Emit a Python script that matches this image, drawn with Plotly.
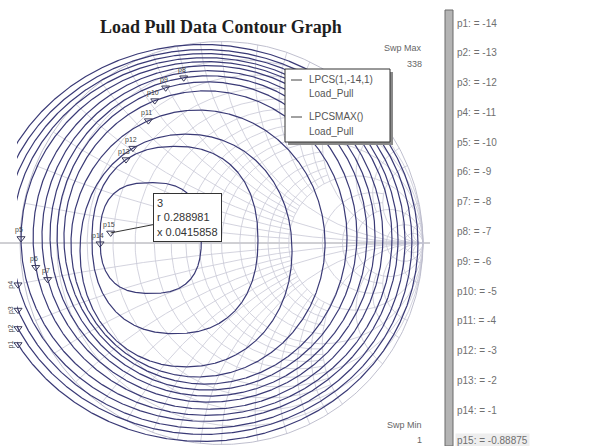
import numpy as np
import plotly.graph_objects as go

# ---- data -------------------------------------------------------------
# contour levels (dB) of LPCS(1,-14,1) and their extents in the Gamma plane
levels = [-14, -13, -12, -11, -10, -9, -8, -7, -6, -5, -4, -3, -2, -1]
gamma_left = [-1.16, -1.12, -1.08, -1.04, -0.995, -0.935, -0.891, -0.851,
              -0.816, -0.782, -0.747, -0.702, -0.643, -0.603]
gamma_right = [0.975, 0.945, 0.911, 0.876, 0.846, 0.801, 0.762, 0.722,
               0.672, 0.623, 0.514, 0.350, 0.181, -0.100]
gamma_top = [0.985, 0.960, 0.940, 0.920, 0.900, 0.880, 0.855, 0.830,
             0.800, 0.755, 0.660, 0.540, 0.480, 0.300]
gamma_bottom = [-0.985, -0.950, -0.920, -0.885, -0.855, -0.825, -0.790, -0.760,
                -0.730, -0.700, -0.665, -0.615, -0.450, -0.250]
squareness = [2.0, 2.0, 2.0, 2.0, 2.0, 2.0, 2.0, 2.0, 2.0, 2.0, 2.0, 2.1, 2.3, 2.6]

# where each contour's label marker sits (angle along the contour, None = at left frame edge)
marker_angle = [None, None, None, None, 180, 190, 195, 99, 106, 111, 113, 119, 123, 183]

# LPCSMAX() result
max_level = -0.88875
max_r = 0.288981
max_x = 0.0415858
max_label = "3"

marker_names = ["p%d" % (i + 1) for i in range(15)]
marker_values = levels + [max_level]

sweep_max = 338
sweep_min = 1

# Smith chart grid values
r_major = [0.2, 0.5, 1.0, 2.0, 5.0]
r_minor = [0.1, 0.3, 0.4, 0.6, 0.7, 0.8, 0.9, 1.2, 1.4, 1.6, 1.8, 3.0, 4.0, 10.0, 20.0]
x_major = [0.2, 0.5, 1.0, 2.0, 5.0]
x_minor = [0.1, 0.3, 0.4, 0.6, 0.7, 0.8, 0.9, 1.2, 1.4, 1.6, 1.8, 3.0, 4.0, 10.0, 20.0]

# ---- geometry helpers --------------------------------------------------
W, H = 597, 446
CX, CY, RAD = 221.5, 243.0, 201.5   # pixel centre / radius of the unit circle
X_LEFT = 17                         # left edge of the plotting frame (px)


def paper_x(px):
    return px / W


def paper_y(py):
    return 1 - py / H


x_range = [(X_LEFT - CX) / RAD, (W - CX) / RAD]
y_range = [(CY - H) / RAD, CY / RAD]
edge_x = x_range[0] + 0.005   # markers sit just inside the frame edge


def contour_shape(i, t):
    L, R, T, B, p = gamma_left[i], gamma_right[i], gamma_top[i], gamma_bottom[i], squareness[i]
    cx, a = (L + R) / 2, (R - L) / 2
    cy, b = (T + B) / 2, (T - B) / 2
    c, s = np.cos(t), np.sin(t)
    u = np.sign(c) * np.abs(c) ** (2 / p)
    v = np.sign(s) * np.abs(s) ** (2 / p)
    return cx + a * u, cy + b * v


def edge_angle(i):
    L, R, p = gamma_left[i], gamma_right[i], squareness[i]
    cx, a = (L + R) / 2, (R - L) / 2
    u = abs((edge_x - cx) / a)
    c = -(u ** (p / 2))
    return 2 * np.pi - np.arccos(c)


def z_to_gamma(z):
    return (z - 1) / (z + 1)


def grid_lines():
    xs, ys = [], []

    def add(g):
        g = np.where(np.abs(g) <= 1.0005, g, np.nan)
        xs.extend(list(g.real) + [None])
        ys.extend(list(g.imag) + [None])

    t = np.linspace(-np.pi / 2 + 1e-4, np.pi / 2 - 1e-4, 600)
    for r in r_major:
        add(z_to_gamma(r + 1j * np.tan(t) * (1 + r)))
    for r in r_minor:
        lim = 2.0 if r < 2 else 5.0
        if r >= 10:
            lim = 1e6
        xx = np.linspace(-lim, lim, 400) if lim < 1e5 else np.tan(t) * (1 + r)
        add(z_to_gamma(r + 1j * xx))
    rr_full = np.concatenate([np.linspace(0, 5, 300), np.geomspace(5, 2000, 200)])
    for xv in x_major:
        for sgn in (1, -1):
            add(z_to_gamma(rr_full + 1j * sgn * xv))
    for xv in x_minor:
        lim = 2.0 if xv < 2 else 5.0
        rr = rr_full if xv >= 10 else np.linspace(0, lim, 300)
        for sgn in (1, -1):
            add(z_to_gamma(rr + 1j * sgn * xv))
    return xs, ys


fig = go.Figure()

# Smith chart grid
gx, gy = grid_lines()
fig.add_trace(go.Scatter(x=gx, y=gy, mode="lines", hoverinfo="skip",
                         line=dict(color="#c8c8d6", width=0.8)))
th = np.linspace(0, 2 * np.pi, 720)
fig.add_trace(go.Scatter(x=np.cos(th), y=np.sin(th), mode="lines", hoverinfo="skip",
                         line=dict(color="#b8b8c8", width=0.9)))

# load pull contours
t = np.linspace(0, 2 * np.pi, 1441)
for i, lev in enumerate(levels):
    x, y = contour_shape(i, t)
    fig.add_trace(go.Scatter(x=x, y=y, mode="lines", name=str(lev), hoverinfo="skip",
                             line=dict(color="#3a3a76", width=1.2)))

# contour markers
mx, my = [], []
for i in range(len(levels)):
    ang = edge_angle(i) if marker_angle[i] is None else np.radians(marker_angle[i])
    x, y = contour_shape(i, np.array([ang]))
    mx.append(float(x[0]))
    my.append(float(y[0]))
g_max = z_to_gamma(complex(max_r, max_x))
mx.append(g_max.real)
my.append(g_max.imag)

fig.add_trace(go.Scatter(x=mx, y=my, mode="markers", cliponaxis=False, hoverinfo="skip",
                         marker=dict(symbol="triangle-down-open", size=7,
                                     color="#3a3a5a", line=dict(width=1))))

annotations = []
for i, name in enumerate(marker_names):
    left_group = (marker_angle[i] is None) if i < len(levels) else False
    if left_group:
        annotations.append(dict(x=mx[i], y=my[i], xref="x", yref="y", text=name,
                                showarrow=False, textangle=-90, xshift=-7,
                                xanchor="center", yanchor="middle",
                                font=dict(family="Liberation Sans", size=7, color="#444")))
    else:
        annotations.append(dict(x=mx[i], y=my[i], xref="x", yref="y", text=name,
                                showarrow=False, yshift=8, xshift=-2,
                                xanchor="center", yanchor="middle",
                                font=dict(family="Liberation Sans", size=7, color="#444")))

# marker read-out box for LPCSMAX
annotations.append(dict(
    x=g_max.real, y=g_max.imag, xref="x", yref="y",
    text="%s<br>r %s<br>x %s" % (max_label, max_r, max_x),
    showarrow=True, arrowhead=0, arrowwidth=1, arrowcolor="#333",
    ax=77, ay=-15, align="left",
    bgcolor="white", bordercolor="#333", borderwidth=1, borderpad=3,
    font=dict(family="Liberation Sans", size=11, color="#333")))

# title
annotations.append(dict(x=paper_x(221), y=paper_y(27), xref="paper", yref="paper",
                        xanchor="center", yanchor="middle",
                        text="<b>Load Pull Data Contour Graph</b>", showarrow=False,
                        font=dict(family="Liberation Serif", size=18, color="#1e1e1e")))

# sweep range
small = dict(family="Liberation Sans", size=9, color="#666")
for txt, ypx in (("Swp Max", 48), (str(sweep_max), 64), ("Swp Min", 425), (str(sweep_min), 440)):
    annotations.append(dict(x=paper_x(424), y=paper_y(ypx), xref="paper", yref="paper",
                            text=txt, showarrow=False, xanchor="right", yanchor="middle",
                            font=small))

# legend box text
legend_font = dict(family="Liberation Sans", size=10, color="#555")
for txt, ypx in (("LPCS(1,-14,1)", 80), ("Load_Pull", 94), ("LPCSMAX()", 117), ("Load_Pull", 131)):
    annotations.append(dict(x=paper_x(307), y=paper_y(ypx), xref="paper", yref="paper",
                            text=txt, showarrow=False, xanchor="left", yanchor="middle",
                            font=legend_font))

# marker value list on the right
ys_list = np.linspace(23, 440, len(marker_names))
for name, val, ypx in zip(marker_names, marker_values, ys_list):
    annotations.append(dict(x=paper_x(455), y=paper_y(ypx), xref="paper", yref="paper",
                            text="%s: = %s" % (name, ("%g" % val)), showarrow=False,
                            xanchor="left", yanchor="middle",
                            bgcolor="#eeeeee" if name == "p15" else None,
                            font=dict(family="Liberation Sans", size=10, color="#707070")))

shapes = [
    # real axis
    dict(type="line", xref="paper", yref="y", x0=0, x1=paper_x(430), y0=0, y1=0,
         line=dict(color="#a0a0a8", width=1), layer="below"),
    # legend box with shadow
    dict(type="rect", xref="paper", yref="paper", x0=paper_x(288), x1=paper_x(393),
         y0=paper_y(145), y1=paper_y(72), fillcolor="#8a8a8a", line=dict(width=0), layer="above"),
    dict(type="rect", xref="paper", yref="paper", x0=paper_x(285), x1=paper_x(390),
         y0=paper_y(142), y1=paper_y(69), fillcolor="white",
         line=dict(color="#333", width=1), layer="above"),
    dict(type="line", xref="paper", yref="paper", x0=paper_x(291), x1=paper_x(302),
         y0=paper_y(80), y1=paper_y(80), line=dict(color="#444", width=1), layer="above"),
    dict(type="line", xref="paper", yref="paper", x0=paper_x(291), x1=paper_x(302),
         y0=paper_y(117), y1=paper_y(117), line=dict(color="#444", width=1), layer="above"),
    # divider bar
    dict(type="rect", xref="paper", yref="paper", x0=paper_x(445), x1=paper_x(453),
         y0=0, y1=paper_y(10), fillcolor="#b4b4b4", line=dict(color="#6a6a6a", width=1),
         layer="above"),
]

fig.update_layout(
    width=W, height=H, margin=dict(l=0, r=0, t=0, b=0),
    paper_bgcolor="white", plot_bgcolor="white", showlegend=False,
    xaxis=dict(range=x_range, domain=[X_LEFT / W, 1], visible=False, fixedrange=True),
    yaxis=dict(range=y_range, domain=[0, 1], visible=False, fixedrange=True),
    annotations=annotations, shapes=shapes,
)

fig.write_html("out.html")
